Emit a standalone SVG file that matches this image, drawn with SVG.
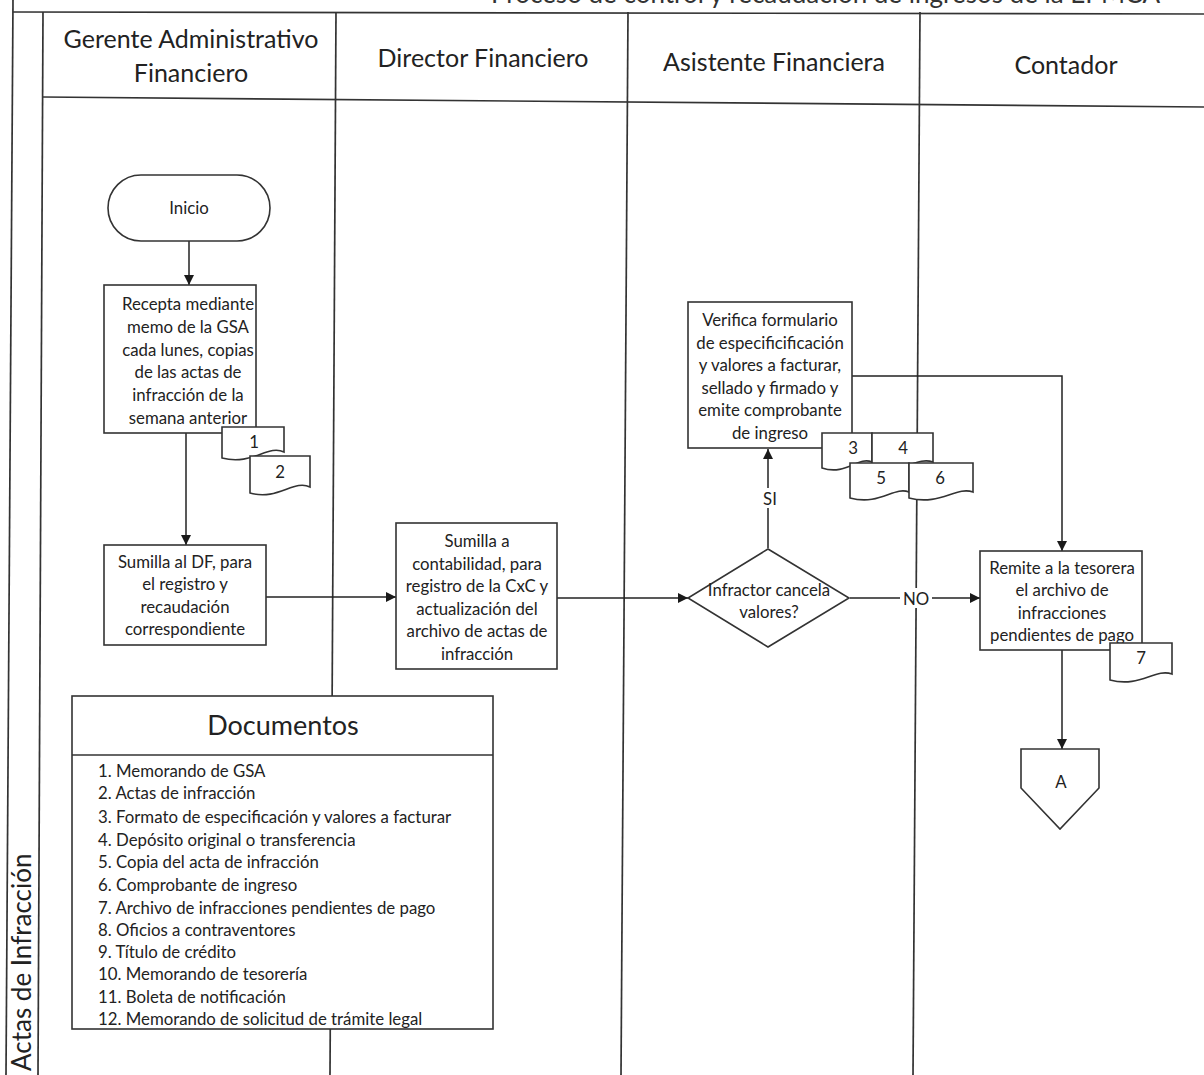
<svg xmlns="http://www.w3.org/2000/svg" width="1204" height="1075" viewBox="0 0 1204 1075">
<defs>
<marker id="arr" viewBox="0 0 10 10" refX="10" refY="5" markerWidth="10" markerHeight="10" markerUnits="userSpaceOnUse" orient="auto">
<path d="M0,0 L10,5 L0,10 z" fill="#1a1a1a"/>
</marker>
<style>
.ln{stroke:#333;stroke-width:1.7;fill:none}
.sh{stroke:#333;stroke-width:1.6;fill:#fff}
.t{font-family:Lato,"Liberation Sans",sans-serif;font-size:16.8px;fill:#222;text-anchor:middle}
.tl{font-family:Lato,"Liberation Sans",sans-serif;font-size:16.8px;fill:#222}
.h{font-family:Lato,"Liberation Sans",sans-serif;font-size:25px;fill:#222;text-anchor:middle}
.c{stroke:#222;stroke-width:1.5;fill:none}
</style>
</defs>
<rect width="1204" height="1075" fill="#fff"/>
<text x="1160" y="3" font-family="Lato,'Liberation Sans',sans-serif" font-size="26" fill="#333" text-anchor="end">Proceso de control y recaudación de ingresos de la EPMCA</text>
<g id="frame">
<line class="ln" x1="13" y1="12" x2="1204" y2="14"/>
<line class="ln" x1="13" y1="0" x2="6" y2="1075"/>
<line class="ln" x1="43" y1="12" x2="38" y2="1075"/>
<line class="ln" x1="43" y1="97" x2="1204" y2="107"/>
<line class="ln" x1="336" y1="12" x2="330" y2="1075"/>
<line class="ln" x1="628" y1="12" x2="621" y2="1075"/>
<line class="ln" x1="920" y1="12" x2="913" y2="1075"/>
</g>
<g id="lane-headers">
<text class="h" x="191" y="48">Gerente Administrativo</text>
<text class="h" x="191" y="82">Financiero</text>
<text class="h" x="483" y="67">Director Financiero</text>
<text class="h" x="774" y="71">Asistente Financiera</text>
<text class="h" x="1066" y="74">Contador</text>
<text class="h" transform="translate(31,1071) rotate(-90)" style="text-anchor:start;font-size:26px">Actas de Infracción</text>
</g>
<g id="connectors">
<line class="c" x1="189" y1="241" x2="189" y2="285" marker-end="url(#arr)"/>
<line class="c" x1="186" y1="433" x2="186" y2="545" marker-end="url(#arr)"/>
<line class="c" x1="266" y1="597" x2="396" y2="597" marker-end="url(#arr)"/>
<line class="c" x1="557" y1="598" x2="688" y2="598" marker-end="url(#arr)"/>
<line class="c" x1="768" y1="548" x2="768" y2="449" marker-end="url(#arr)"/>
<line class="c" x1="850" y1="598" x2="980" y2="598" marker-end="url(#arr)"/>
<polyline class="c" points="852,376 1062,376 1062,551" marker-end="url(#arr)"/>
<line class="c" x1="1062" y1="650" x2="1062" y2="749" marker-end="url(#arr)"/>
<rect x="759" y="488" width="22" height="20" fill="#fff"/>
<text class="t" x="770" y="505">SI</text>
<rect x="900" y="588" width="32" height="20" fill="#fff"/>
<text class="t" x="916" y="605">NO</text>
</g>
<g id="inicio">
<rect class="sh" x="108" y="175" width="162" height="66" rx="33"/>
<text class="t" x="189" y="214">Inicio</text>
</g>
<g id="recepta">
<rect class="sh" x="104" y="285" width="152" height="148"/>
<text class="t" x="188" y="310">Recepta mediante</text>
<text class="t" x="188" y="333">memo de la GSA</text>
<text class="t" x="188" y="356">cada lunes, copias</text>
<text class="t" x="188" y="378">de las actas de</text>
<text class="t" x="188" y="401">infracción de la</text>
<text class="t" x="188" y="424">semana anterior</text>
</g>
<g id="doc1">
<path class="sh" d="M222,427 H284 V452 C268,444 252,466 222,458 Z"/>
<text class="t" x="254" y="448">1</text>
</g>
<g id="doc2">
<path class="sh" d="M250,456 H310 V487 C294,479 278,501 250,493 Z"/>
<text class="t" x="280" y="478">2</text>
</g>
<g id="sumilla-df">
<rect class="sh" x="104" y="545" width="162" height="100"/>
<text class="t" x="185" y="568">Sumilla al DF, para</text>
<text class="t" x="185" y="590">el registro y</text>
<text class="t" x="185" y="613">recaudación</text>
<text class="t" x="185" y="635">correspondiente</text>
</g>
<g id="sumilla-cont">
<rect class="sh" x="396" y="523" width="161" height="146"/>
<text class="t" x="477" y="547">Sumilla a</text>
<text class="t" x="477" y="570">contabilidad, para</text>
<text class="t" x="477" y="592">registro de la CxC y</text>
<text class="t" x="477" y="615">actualización del</text>
<text class="t" x="477" y="637">archivo de actas de</text>
<text class="t" x="477" y="660">infracción</text>
</g>
<g id="decision">
<path class="sh" d="M768,549 L849,598 L768,647 L688,598 Z"/>
<text class="t" x="769" y="596">Infractor cancela</text>
<text class="t" x="769" y="618">valores?</text>
</g>
<g id="verifica">
<rect class="sh" x="688" y="302" width="164" height="146"/>
<text class="t" x="770" y="326">Verifica formulario</text>
<text class="t" x="770" y="349">de especificificación</text>
<text class="t" x="770" y="371">y valores a facturar,</text>
<text class="t" x="770" y="394">sellado y firmado y</text>
<text class="t" x="770" y="416">emite comprobante</text>
<text class="t" x="770" y="439">de ingreso</text>
</g>
<g id="doc3">
<path class="sh" d="M822,433 H872 V462 C858,456 846,476 822,468 Z"/>
<text class="t" x="853" y="454">3</text>
</g>
<g id="doc4">
<path class="sh" d="M872,433 H933 V462 C916,456 900,476 872,468 Z"/>
<text class="t" x="903" y="454">4</text>
</g>
<g id="doc5">
<path class="sh" d="M850,463 H909 V492 C894,486 880,506 850,498 Z"/>
<text class="t" x="881" y="484">5</text>
</g>
<g id="doc6">
<path class="sh" d="M909,463 H973 V492 C956,486 940,506 909,498 Z"/>
<text class="t" x="940" y="484">6</text>
</g>
<g id="remite">
<rect class="sh" x="980" y="551" width="162" height="99"/>
<text class="t" x="1062" y="574">Remite a la tesorera</text>
<text class="t" x="1062" y="596">el archivo de</text>
<text class="t" x="1062" y="619">infracciones</text>
<text class="t" x="1062" y="641">pendientes de pago</text>
</g>
<g id="doc7">
<path class="sh" d="M1110,643 H1172 V674 C1155,668 1140,688 1110,680 Z"/>
<text class="t" x="1141" y="664">7</text>
</g>
<g id="conector-a">
<path class="sh" d="M1021,749 H1099 V788 L1060,829 L1021,788 Z"/>
<text class="t" x="1061" y="788">A</text>
</g>
<g id="documentos">
<rect class="sh" x="72" y="696" width="421" height="333"/>
<line class="ln" x1="72" y1="755" x2="493" y2="755"/>
<text class="h" x="283" y="735" style="font-size:27px">Documentos</text>
<text class="tl" x="98" y="777">1. Memorando de GSA</text>
<text class="tl" x="98" y="799">2. Actas de infracción</text>
<text class="tl" x="98" y="823">3. Formato de especificación y valores a facturar</text>
<text class="tl" x="98" y="846">4. Depósito original o transferencia</text>
<text class="tl" x="98" y="868">5. Copia del acta de infracción</text>
<text class="tl" x="98" y="891">6. Comprobante de ingreso</text>
<text class="tl" x="98" y="914">7. Archivo de infracciones pendientes de pago</text>
<text class="tl" x="98" y="936">8. Oficios a contraventores</text>
<text class="tl" x="98" y="958">9. Título de crédito</text>
<text class="tl" x="98" y="980">10. Memorando de tesorería</text>
<text class="tl" x="98" y="1003">11. Boleta de notificación</text>
<text class="tl" x="98" y="1025">12. Memorando de solicitud de trámite legal</text>
</g>
</svg>
